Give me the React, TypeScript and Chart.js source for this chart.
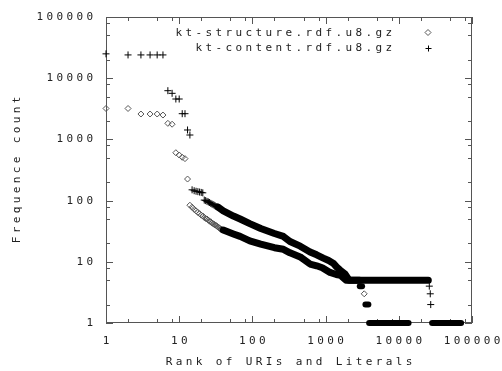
import React, { useEffect, useRef } from 'react';
import { Chart, registerables } from 'chart.js';

Chart.register(...registerables);

// ---------- data ----------
// kt-structure.rdf.u8.gz (diamonds)
const structureSparseRanks = [1, 2, 3, 4, 5, 6, 7, 8, 9, 10, 11, 12, 13, 3370];
const structureSparseCounts = [3200, 3200, 2600, 2600, 2600, 2500, 1830, 1770, 606, 556, 510, 485, 225, 3];
const structureClusterRanks = [14, 15, 16, 17, 18, 19, 20, 21, 22, 23, 24, 25, 26, 27, 28, 29, 30, 31, 32, 33, 34, 35, 36, 37, 38, 39, 40];
const structureClusterCounts = [84, 78, 72, 68, 64, 61, 58, 56, 53, 51, 50, 48, 46, 45, 43, 42, 41, 40, 39, 38, 37, 36, 35, 34, 34, 33, 33];
const structureCurveRanks = [40, 55, 68, 92, 130, 200, 265, 326, 450, 613, 755, 900, 1150, 1400, 1600, 1900, 2900];
const structureCurveCounts = [33, 28.5, 26, 22, 19.5, 17, 16, 14, 12, 9.2, 8.6, 8, 6.7, 6.2, 6, 5, 5];
const structureRunStarts = [2930, 3500, 3930];
const structureRunEnds = [3150, 3840, 13600];
const structureRunCounts = [4, 2, 1];

// kt-content.rdf.u8.gz (plus signs)
const contentSparseRanks = [1, 2, 3, 4, 5, 6, 7, 8, 9, 10, 11, 12, 13, 14, 26100, 26900, 27300];
const contentSparseCounts = [25000, 24000, 24000, 24000, 24000, 24000, 6250, 5660, 4570, 4570, 2630, 2630, 1425, 1180, 4, 3, 2];
const contentClusterRanks = [15, 16, 17, 18, 19, 20, 21, 22, 23, 24, 25, 26, 27, 28, 29, 30, 31, 32, 33, 34];
const contentClusterCounts = [150, 145, 142, 140, 138, 136, 134, 102, 100, 97, 95, 93, 90, 88, 86, 84, 82, 80, 79, 78];
const contentCurveRanks = [34, 40, 55, 68, 92, 130, 200, 265, 326, 450, 613, 755, 930, 1100, 1270, 1420, 1580, 1840, 2100, 25300];
const contentCurveCounts = [78, 68, 56, 50, 42, 35, 29, 26, 21.5, 18, 14.5, 13, 11.5, 10.5, 9.5, 8.2, 7.3, 6.3, 5, 5];
const contentRunStarts = [28500];
const contentRunEnds = [71000];
const contentRunCounts = [1];

const tickValues = [1, 10, 100, 1000, 10000, 100000];
const tickLabels = ['1', '10', '100', '1000', '10000', '100000'];
const minorMultipliers = [2, 5, 8];

const seriesNames = ['kt-structure.rdf.u8.gz', 'kt-content.rdf.u8.gz'];
const xTitle = 'Rank of URIs and Literals';
const yTitle = 'Frequence count';

// ---------- styling ----------
const FRAME = '#555';
const TEXT = '#222';
const DIAMOND = '#555';
const FONT = '11px "DejaVu Sans Mono", monospace';
const PITCH = 10; // character pitch of the gnuplot-like lettering

const pts = (xs: number[], ys: number[]) => xs.map((x, i) => ({ x, y: ys[i] }));

let spacing = 3.4;

// draws a whole string, always centred; the box width is computed from the fixed pitch
function drawSpaced(ctx: CanvasRenderingContext2D, text: string, x: number, y: number, align: 'left' | 'right' | 'center') {
  ctx.textBaseline = 'middle';
  ctx.textAlign = 'center';
  const w = text.length * PITCH - spacing;
  const cx = align === 'right' ? x - w / 2 : align === 'left' ? x + w / 2 : x;
  ctx.fillText(text, cx + spacing / 2, y);
}

function diamond(ctx: CanvasRenderingContext2D, x: number, y: number, r: number) {
  ctx.beginPath();
  ctx.moveTo(x, y - r);
  ctx.lineTo(x + r, y);
  ctx.lineTo(x, y + r);
  ctx.lineTo(x - r, y);
  ctx.closePath();
  ctx.stroke();
}

function plus(ctx: CanvasRenderingContext2D, x: number, y: number, r: number) {
  ctx.beginPath();
  ctx.moveTo(x - r, y);
  ctx.lineTo(x + r, y);
  ctx.moveTo(x, y - r);
  ctx.lineTo(x, y + r);
  ctx.stroke();
}

const gnuFrame = {
  id: 'gnuFrame',
  beforeDatasetsDraw(chart: any) {
    const { ctx, chartArea: a, scales } = chart;
    const xs = scales.x;
    const ys = scales.y;
    ctx.save();
    ctx.strokeStyle = FRAME;
    ctx.lineWidth = 1;
    ctx.strokeRect(a.left + 0.5, a.top + 0.5, a.right - a.left - 1, a.bottom - a.top - 1);
    ctx.beginPath();
    tickValues.forEach((d) => {
      [1, ...minorMultipliers].forEach((m) => {
        const v = d * m;
        if (v > 100000) return;
        const len = m === 1 ? 7 : 4;
        const px = Math.round(xs.getPixelForValue(v)) + 0.5;
        ctx.moveTo(px, a.bottom);
        ctx.lineTo(px, a.bottom - len);
        ctx.moveTo(px, a.top);
        ctx.lineTo(px, a.top + len);
        const py = Math.round(ys.getPixelForValue(v)) + 0.5;
        ctx.moveTo(a.left, py);
        ctx.lineTo(a.left + len, py);
        ctx.moveTo(a.right, py);
        ctx.lineTo(a.right - len, py);
      });
    });
    ctx.stroke();

    ctx.font = FONT;
    const adv = ctx.measureText('0').width;
    spacing = PITCH - adv;
    (ctx as any).letterSpacing = spacing + 'px';
    ctx.fillStyle = TEXT;
    tickValues.forEach((v, i) => {
      drawSpaced(ctx, tickLabels[i], xs.getPixelForValue(v), a.bottom + 18, 'center');
      drawSpaced(ctx, tickLabels[i], a.left - 13, Math.round(ys.getPixelForValue(v)), 'right');
    });
    drawSpaced(ctx, xTitle, (a.left + a.right) / 2, 362, 'center');
    ctx.save();
    ctx.translate(17, (a.top + a.bottom) / 2);
    ctx.rotate(-Math.PI / 2);
    drawSpaced(ctx, yTitle, 0, 0, 'center');
    ctx.restore();

    // legend
    drawSpaced(ctx, seriesNames[0], a.right - 80, 33, 'right');
    drawSpaced(ctx, seriesNames[1], a.right - 80, 48, 'right');
    ctx.strokeStyle = DIAMOND;
    diamond(ctx, a.right - 44, 32.5, 3);
    ctx.strokeStyle = '#000';
    plus(ctx, a.right - 44 + 0.5, 48.5, 3);
    ctx.restore();
  },
};

export default function App() {
  const ref = useRef<HTMLCanvasElement>(null);
  useEffect(() => {
    if (!ref.current) return;
    const band = (data: any[], width: number) => ({
      data,
      showLine: true,
      borderColor: '#000',
      backgroundColor: '#000',
      borderWidth: width,
      borderCapStyle: 'round',
      borderJoinStyle: 'round',
      pointRadius: 0,
      tension: 0,
      clip: false,
    });
    const runs = (s: number[], e: number[], c: number[]) =>
      s.map((st, i) => band([{ x: st, y: c[i] }, { x: e[i], y: c[i] }], 6));

    const chart = new Chart(ref.current, {
      type: 'scatter',
      data: {
        datasets: [
          band(pts(structureCurveRanks, structureCurveCounts), 7),
          ...runs(structureRunStarts, structureRunEnds, structureRunCounts),
          band(pts(contentCurveRanks, contentCurveCounts), 7),
          ...runs(contentRunStarts, contentRunEnds, contentRunCounts),
          {
            label: seriesNames[0],
            data: [...pts(structureSparseRanks, structureSparseCounts), ...pts(structureClusterRanks, structureClusterCounts)],
            pointStyle: 'rectRot',
            pointRadius: 3,
            borderWidth: 1,
            borderColor: DIAMOND,
            backgroundColor: 'rgba(0,0,0,0)',
            clip: false,
          },
          {
            label: seriesNames[1],
            data: [...pts(contentSparseRanks, contentSparseCounts), ...pts(contentClusterRanks, contentClusterCounts)],
            pointStyle: 'cross',
            pointRadius: 3.5,
            borderWidth: 1,
            borderColor: '#000',
            backgroundColor: '#000',
            clip: false,
          },
        ] as any,
      },
      options: {
        animation: false,
        responsive: false,
        devicePixelRatio: 1,
        layout: { padding: { left: 106, right: 30, top: 17, bottom: 48 } },
        scales: {
          x: { type: 'logarithmic', min: 1, max: 100000, display: false },
          y: { type: 'logarithmic', min: 1, max: 100000, display: false },
        },
        plugins: { legend: { display: false }, tooltip: { enabled: false } },
      } as any,
      plugins: [gnuFrame],
    });
    return () => chart.destroy();
  }, []);
  return (
    <div style={{ position: 'fixed', left: 0, top: 0, width: 502, height: 371, background: '#fff' }}>
      <canvas ref={ref} width={502} height={371} style={{ display: 'block' }} />
    </div>
  );
}
